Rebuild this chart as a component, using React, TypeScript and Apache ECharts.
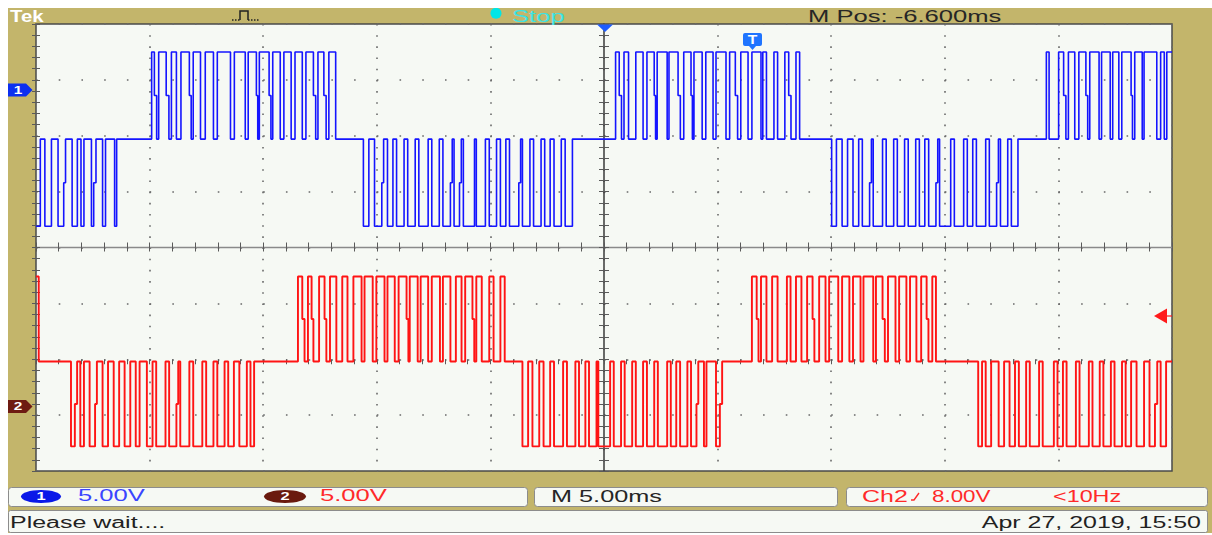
import React, { useEffect, useRef } from "react";
import * as echarts from "echarts";

// Time base: 10 divisions x 5 ms, vertical: 8 divisions x 5 V
const T_MIN = 0;
const T_MAX = 50;
const V_MIN = -20;
const V_MAX = 20;

// Five output levels of each channel (V): [-2, -1, rest, +1, +2]
const BLUE_LEVELS = [1.9, 5.8, 9.7, 13.6, 17.5];
const RED_LEVELS = [-17.8, -14.0, -10.2, -6.4, -2.6];

// Pulses as [start ms, end ms, optional dwell ms on the intermediate level]
const BLUE_NEG_A = [[0, 0.19], [0.39, 0.68], [0.97, 1.22, 0.08], [1.59, 1.82], [1.98, 2.11], [2.44, 2.54, 0.1], [2.93, 3.06], [3.46, 3.55]];
const BLUE_POS_1 = [[5.09, 5.21, 0.1], [5.4, 5.73, 0.12], [5.96, 6.18], [6.38, 6.75, 0.08], [6.92, 7.24], [7.45, 7.81], [7.98, 8.56], [8.73, 9.21], [9.34, 9.7, 0.06], [9.83, 10.26, 0.08], [10.42, 10.75], [10.91, 11.23], [11.4, 11.72], [11.88, 12.21, 0.1], [12.41, 12.67, 0.1], [12.89, 13.19]];
const BLUE_NEG_1 = [[14.41, 14.65], [14.9, 15.22, 0.08], [15.47, 15.71], [15.87, 16.2], [16.36, 16.69], [16.85, 17.26], [17.42, 17.75], [17.91, 18.24, 0.08], [18.4, 18.64, 0.08], [18.81, 19.3], [19.38, 19.78], [19.95, 20.27], [20.44, 20.68], [20.84, 21.25, 0.08], [21.41, 21.74], [21.9, 22.23], [22.39, 22.63], [22.8, 23.12], [23.29, 23.61]];
const BLUE_POS_2 = [[25.51, 25.67, 0.1], [25.88, 26.08], [26.4, 26.72], [26.89, 27.21, 0.06], [27.34, 27.78], [27.86, 28.26, 0.1], [28.51, 28.83, 0.06], [28.96, 29.32], [29.48, 29.8], [29.93, 30.37], [30.53, 30.78, 0.1], [31.02, 31.34], [31.51, 31.91], [31.99, 32.15], [32.48, 32.64], [32.96, 33.13, 0.1], [33.45, 33.61]];
const BLUE_NEG_2 = [[35.02, 35.23], [35.48, 35.72], [35.96, 36.21], [36.37, 36.69, 0.08], [36.85, 37.26], [37.42, 37.75], [37.91, 38.23], [38.39, 38.72], [38.88, 39.12], [39.29, 39.61, 0.08], [39.77, 40.26], [40.42, 40.83], [40.99, 41.23], [41.39, 41.8], [41.96, 42.28, 0.08], [42.45, 42.77], [42.93, 43.22]];
const BLUE_POS_3 = [[44.47, 44.59], [45.01, 45.23, 0.1], [45.44, 45.72], [45.9, 46.21, 0.08], [46.38, 46.79], [46.9, 47.28], [47.39, 47.66], [47.79, 48.2, 0.06], [48.36, 48.69], [48.77, 49.33], [49.5, 49.66], [49.77, 50]];

const RED_POS_0 = [[0, 0.12]];
const RED_NEG_1 = [[1.54, 1.71, 0.1], [1.95, 2.11], [2.36, 2.6, 0.08], [2.93, 3.17], [3.42, 3.66], [3.9, 4.15], [4.39, 4.56], [4.88, 5.13], [5.29, 5.7], [5.86, 6.18, 0.08], [6.35, 6.75], [6.92, 7.32], [7.49, 7.81], [7.98, 8.3], [8.46, 8.71], [8.95, 9.28], [9.44, 9.6]];
const RED_POS_1 = [[11.53, 11.72, 0.1], [11.97, 12.13, 0.08], [12.46, 12.7, 0.08], [12.94, 13.22], [13.48, 13.71], [13.97, 14.33], [14.46, 14.82], [14.98, 15.34], [15.47, 15.79], [15.96, 16.31, 0.08], [16.45, 16.8], [16.93, 17.26], [17.42, 17.78], [17.91, 18.24], [18.48, 18.73], [18.89, 19.21, 0.08], [19.38, 19.62], [19.95, 20.14], [20.44, 20.63]];
const RED_NEG_2 = [[21.41, 21.66], [21.85, 22.15], [22.34, 22.63], [22.8, 23.2], [23.37, 23.74], [23.9, 24.18], [24.34, 24.67], [24.75, 25.27], [25.43, 25.75], [25.91, 26.24], [26.4, 26.72], [26.89, 27.21], [27.37, 27.78], [27.94, 28.18], [28.35, 28.67], [28.83, 29.07, 0.08], [29.4, 29.51], [29.93, 30.1, 0.1]];
const RED_POS_2 = [[31.51, 31.72, 0.08], [31.91, 32.15], [32.4, 32.64], [33.05, 33.21], [33.45, 33.69], [33.94, 34.18, 0.08], [34.47, 34.75], [34.91, 35.31], [35.48, 35.8], [35.96, 36.29], [36.42, 36.85], [36.97, 37.26, 0.1], [37.5, 37.83], [37.99, 38.31], [38.47, 38.75], [38.96, 39.2, 0.08], [39.45, 39.61]];
const RED_NEG_3 = [[41.47, 41.64], [41.8, 42.04], [42.37, 42.61], [42.85, 43.09], [43.26, 43.58], [43.74, 44.15], [44.31, 44.8], [44.96, 45.2], [45.36, 45.77], [45.93, 46.34], [46.5, 46.82], [46.98, 47.31], [47.47, 47.8], [47.96, 48.2], [48.44, 48.77], [49.01, 49.25, 0.1], [49.5, 49.74]];

const BLUE_HALVES = [
  { dir: -1, pulses: BLUE_NEG_A },
  { dir: 1, pulses: BLUE_POS_1 },
  { dir: -1, pulses: BLUE_NEG_1 },
  { dir: 1, pulses: BLUE_POS_2 },
  { dir: -1, pulses: BLUE_NEG_2 },
  { dir: 1, pulses: BLUE_POS_3 },
];
const RED_HALVES = [
  { dir: 1, pulses: RED_POS_0 },
  { dir: -1, pulses: RED_NEG_1 },
  { dir: 1, pulses: RED_POS_1 },
  { dir: -1, pulses: RED_NEG_2 },
  { dir: 1, pulses: RED_POS_2 },
  { dir: -1, pulses: RED_NEG_3 },
];

// Readouts
const CH1_SCALE = "5.00V";
const CH2_SCALE = "5.00V";
const TIME_SCALE = "M 5.00ms";
const TRIG_SOURCE = "Ch2";
const TRIG_LEVEL = "8.00V";
const TRIG_FREQ = "<10Hz";
const M_POS = "M Pos: -6.600ms";
const RUN_STATE = "Stop";
const STATUS = "Please wait....";
const STAMP = "Apr 27, 2019, 15:50";

function buildTrace(levels: number[], halves: { dir: number; pulses: number[][] }[]) {
  const rest = levels[2];
  const pts: number[][] = [];
  for (const h of halves) {
    const peak = levels[2 + 2 * h.dir];
    const mid = levels[2 + h.dir];
    for (const p of h.pulses) {
      const [s, e, k] = p;
      if (s > T_MIN) {
        if (!pts.length) pts.push([T_MIN, rest]);
        pts.push([s, rest]);
      }
      pts.push([s, peak], [e, peak]);
      if (e < T_MAX) {
        if (k) pts.push([e, mid], [e + k, mid], [e + k, rest]);
        else pts.push([e, rest]);
      }
    }
  }
  if (pts[pts.length - 1][0] < T_MAX) pts.push([T_MAX, rest]);
  return pts;
}

const FONT = "'Liberation Sans', Arial, sans-serif";
const KHAKI = "#c3b56b";
const SCREEN = "#f6f9f4";

function label(text: string, x: number, y: number, fill: string, scaleX: number, align = "left", extra: any = {}) {
  return {
    type: "text",
    x,
    y,
    scaleX,
    z: 20,
    style: {
      text,
      fill,
      fontSize: 16,
      fontFamily: FONT,
      align,
      textAlign: align,
      verticalAlign: "middle",
      textVerticalAlign: "middle",
      ...extra,
    },
  };
}

export default function App() {
  const ref = useRef<HTMLDivElement>(null);

  useEffect(() => {
    if (!ref.current) return;
    const chart = echarts.init(ref.current, undefined, { renderer: "svg" });

    const L = 28, T = 16, W = 1136, H = 447;
    const tick = (len: number) => ({
      axisTick: { show: true, inside: true, length: len, lineStyle: { color: "#5a5a5a", width: 1 } },
      minorTick: { show: true, splitNumber: 5, length: len, lineStyle: { color: "#5a5a5a", width: 1 } },
    });
    const xBase = {
      type: "value", min: T_MIN, max: T_MAX, interval: 5,
      axisLabel: { show: false }, axisLine: { show: false }, splitLine: { show: false },
    };
    const yBase = {
      type: "value", min: V_MIN, max: V_MAX, interval: 5,
      axisLabel: { show: false }, axisLine: { show: false }, splitLine: { show: false },
    };

    const option: any = {
      animation: false,
      backgroundColor: KHAKI,
      grid: [
        { left: L, top: T, width: W, height: H, show: true, backgroundColor: SCREEN, borderColor: "#4a4a4a", borderWidth: 1.5 },
        { left: L, top: T, width: W, height: H / 2 },
        { left: L, top: T + H / 2, width: W, height: H / 2 },
        { left: L, top: T, width: W / 2, height: H },
        { left: L + W / 2, top: T, width: W / 2, height: H },
      ],
      xAxis: [
        {
          ...xBase, gridIndex: 0, position: "bottom", ...tick(4),
          splitLine: { show: true, lineStyle: { color: "#6a6a6a", width: 1.6, type: [1.6, 9.575] } },
        },
        { ...xBase, gridIndex: 0, position: "top", ...tick(4) },
        {
          ...xBase, gridIndex: 1, position: "bottom", ...tick(5),
          axisLine: { show: true, onZero: false, lineStyle: { color: "#8a8a8a", width: 1.3 } },
        },
        { ...xBase, gridIndex: 2, position: "top", ...tick(5) },
        { ...xBase, gridIndex: 3, show: false },
        { ...xBase, gridIndex: 4, show: false },
      ],
      yAxis: [
        {
          ...yBase, gridIndex: 0, position: "left", ...tick(4),
          splitLine: { show: true, lineStyle: { color: "#6a6a6a", width: 1.6, type: [1.6, 21.12] } },
        },
        { ...yBase, gridIndex: 0, position: "right", ...tick(4) },
        { ...yBase, gridIndex: 1, show: false },
        { ...yBase, gridIndex: 2, show: false },
        {
          ...yBase, gridIndex: 3, position: "right", ...tick(5),
          axisLine: { show: true, onZero: false, lineStyle: { color: "#3a3a3a", width: 1.5 } },
        },
        { ...yBase, gridIndex: 4, position: "left", ...tick(5) },
      ],
      series: [
        {
          name: "CH1", type: "line", xAxisIndex: 0, yAxisIndex: 0,
          data: buildTrace(BLUE_LEVELS, BLUE_HALVES),
          showSymbol: false, clip: true, z: 5,
          lineStyle: { color: "#1414ff", width: 1.6 },
        },
        {
          name: "CH2", type: "line", xAxisIndex: 0, yAxisIndex: 0,
          data: buildTrace(RED_LEVELS, RED_HALVES),
          showSymbol: false, clip: true, z: 5,
          lineStyle: { color: "#ff1414", width: 1.9 },
        },
      ],
      graphic: [
        // top bar
        { type: "text", x: 2, y: 8.6, scaleX: 1.2, z: 20, style: { text: "Tek", fill: "#ffffff", fontSize: 17, fontWeight: "bold", fontFamily: FONT, verticalAlign: "middle", textVerticalAlign: "middle" } },
        { type: "polyline", z: 20, shape: { points: [[224, 12], [232, 12]] }, style: { stroke: "#222", lineWidth: 1.5, lineDash: [1.5, 1.5], fill: null } },
        { type: "polyline", z: 20, shape: { points: [[232, 12], [232, 3], [240, 3], [240, 12]] }, style: { stroke: "#222", lineWidth: 1.5, fill: null } },
        { type: "polyline", z: 20, shape: { points: [[240, 12], [252, 12]] }, style: { stroke: "#222", lineWidth: 1.5, lineDash: [1.5, 1.5], fill: null } },
        { type: "circle", z: 20, shape: { cx: 488, cy: 5.3, r: 5.5 }, style: { fill: "#00e6e6" } },
        label(RUN_STATE, 504, 8.6, "#3de3e3", 1.6),
        label(M_POS, 800, 8.6, "#262626", 1.6),

        // channel and trigger markers
        { type: "polygon", z: 20, shape: { points: [[0, 75.5], [18, 75.5], [24.5, 82], [18, 88.5], [0, 88.5]] }, style: { fill: "#0b2ff0" } },
        { type: "text", x: 10, y: 82, z: 21, scaleX: 1.4, style: { text: "1", fill: "#fff", fontSize: 11, fontWeight: "bold", fontFamily: FONT, align: "center", textAlign: "center", verticalAlign: "middle", textVerticalAlign: "middle" } },
        { type: "polygon", z: 20, shape: { points: [[0, 392], [18, 392], [24.5, 398.5], [18, 405], [0, 405]] }, style: { fill: "#6e1b12" } },
        { type: "text", x: 10, y: 398.5, z: 21, scaleX: 1.4, style: { text: "2", fill: "#fff", fontSize: 11, fontWeight: "bold", fontFamily: FONT, align: "center", textAlign: "center", verticalAlign: "middle", textVerticalAlign: "middle" } },
        { type: "polygon", z: 20, shape: { points: [[589, 16.5], [605, 16.5], [597, 24]] }, style: { fill: "#1d5cff" } },
        { type: "rect", z: 20, shape: { x: 735, y: 25, width: 19, height: 13, r: 2 }, style: { fill: "#1f74ff" } },
        { type: "polygon", z: 20, shape: { points: [[741, 38], [748, 38], [744.5, 42]] }, style: { fill: "#1f74ff" } },
        { type: "text", x: 744.5, y: 31.5, z: 21, scaleX: 1.3, style: { text: "T", fill: "#fff", fontSize: 12, fontWeight: "bold", fontFamily: FONT, align: "center", textAlign: "center", verticalAlign: "middle", textVerticalAlign: "middle" } },
        { type: "polygon", z: 20, shape: { points: [[1146, 308], [1159, 300.5], [1159, 315.5]] }, style: { fill: "#ff1a1a" } },
        { type: "line", z: 20, shape: { x1: 1159, y1: 308, x2: 1164, y2: 308 }, style: { stroke: "#ff1a1a", lineWidth: 1.2 } },

        // readout panels
        { type: "rect", z: 10, shape: { x: 0.5, y: 479.5, width: 519, height: 19, r: 3 }, style: { fill: SCREEN, stroke: "#8c8c8c", lineWidth: 1 } },
        { type: "rect", z: 10, shape: { x: 526.5, y: 479.5, width: 303, height: 19, r: 3 }, style: { fill: SCREEN, stroke: "#8c8c8c", lineWidth: 1 } },
        { type: "rect", z: 10, shape: { x: 838.5, y: 479.5, width: 361, height: 19, r: 3 }, style: { fill: SCREEN, stroke: "#8c8c8c", lineWidth: 1 } },
        { type: "rect", z: 10, shape: { x: 0.5, y: 502.5, width: 1199, height: 22, r: 2 }, style: { fill: SCREEN, stroke: "#8c8c8c", lineWidth: 1 } },

        { type: "ellipse", z: 20, shape: { cx: 33, cy: 488.5, rx: 20, ry: 6.5 }, style: { fill: "#0a18e8" } },
        { type: "text", x: 33, y: 488.5, z: 21, scaleX: 1.5, style: { text: "1", fill: "#fff", fontSize: 11, fontWeight: "bold", fontFamily: FONT, align: "center", textAlign: "center", verticalAlign: "middle", textVerticalAlign: "middle" } },
        label(CH1_SCALE, 70, 488, "#3a45ff", 1.6),
        { type: "ellipse", z: 20, shape: { cx: 277, cy: 488.5, rx: 21, ry: 6.5 }, style: { fill: "#6a1a0e" } },
        { type: "text", x: 277, y: 488.5, z: 21, scaleX: 1.5, style: { text: "2", fill: "#fff", fontSize: 11, fontWeight: "bold", fontFamily: FONT, align: "center", textAlign: "center", verticalAlign: "middle", textVerticalAlign: "middle" } },
        label(CH2_SCALE, 312, 488, "#ff2a2a", 1.6),
        label(TIME_SCALE, 543, 488, "#262626", 1.58),
        label(TRIG_SOURCE, 854, 488, "#ff2a2a", 1.56),
        { type: "polyline", z: 20, shape: { points: [[903, 492], [906, 492], [911, 485]] }, style: { stroke: "#ff2a2a", lineWidth: 1.4, fill: null } },
        label(TRIG_LEVEL, 924, 488, "#ff2a2a", 1.4),
        label(TRIG_FREQ, 1045, 488, "#ff2a2a", 1.46),
        label(STATUS, 2, 514, "#222222", 1.56),
        label(STAMP, 1193, 514, "#222222", 1.56, "right"),
      ],
    };

    chart.setOption(option);
    return () => chart.dispose();
  }, []);

  return (
    <div
      ref={ref}
      style={{ position: "fixed", left: 8, top: 8, width: 1204, height: 525 }}
    />
  );
}
